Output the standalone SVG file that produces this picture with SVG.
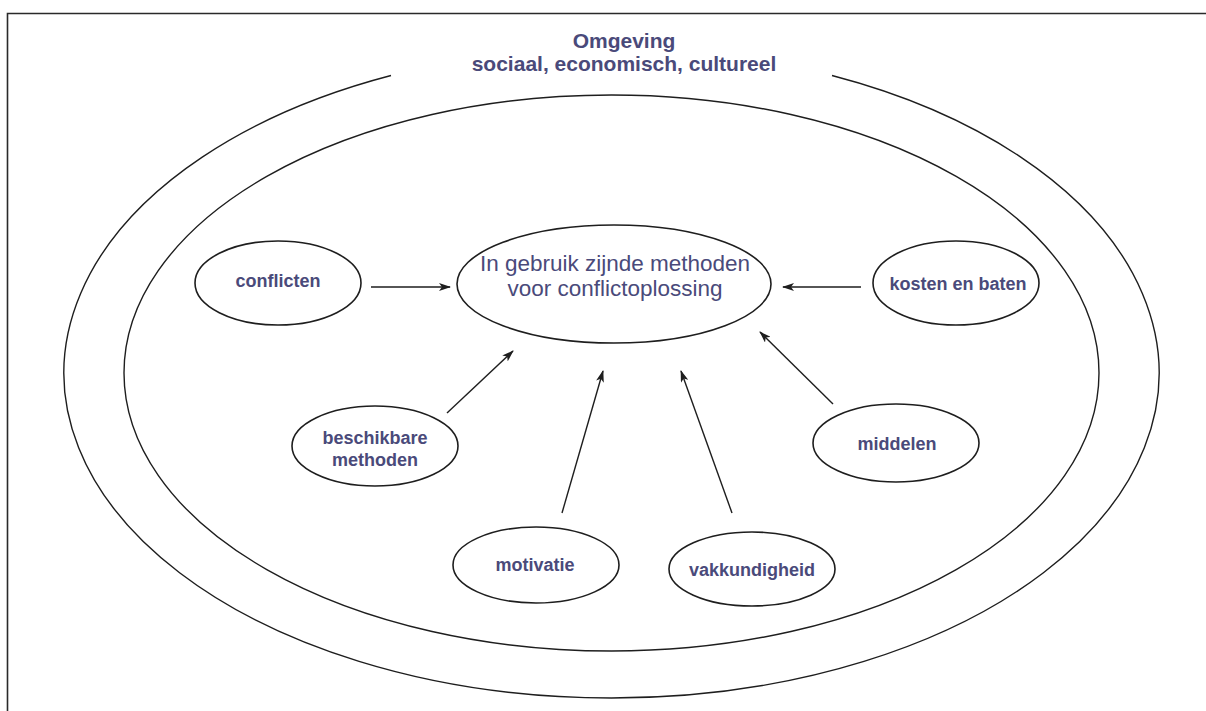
<svg xmlns="http://www.w3.org/2000/svg" width="1206" height="711" viewBox="0 0 1206 711">
<defs>
<style>
.ln{fill:none;stroke:#1e1e1e;stroke-width:1.4}
.nd{fill:#fff;stroke:#1e1e1e;stroke-width:1.6}
.t{font-family:"Liberation Sans",Arial,sans-serif;fill:#4a4a7a;text-anchor:middle}
.b{font-weight:bold;font-size:18px}
.c{font-size:22.5px}
.h{font-weight:bold;font-size:21px}
.ar{fill:none;stroke:#1e1e1e;stroke-width:1.4;marker-end:url(#ah)}
</style>
<marker id="ah" viewBox="0 0 12 8" refX="11" refY="4" markerWidth="12" markerHeight="8" markerUnits="userSpaceOnUse" orient="auto">
<path d="M0,0 L12,4 L0,8 L3,4 z" fill="#1e1e1e"/>
</marker>
</defs>
<rect width="1206" height="711" fill="#fff"/>
<path d="M7.5,711 V13.5 H1206" fill="none" stroke="#2a2a2a" stroke-width="1.6"/>
<g id="omgeving">
<path class="ln" d="M391,75.5 A547.5,325 0 1 0 832,75.5"/>
<text class="t h" x="624" y="48">Omgeving</text>
<text class="t h" x="624" y="71">sociaal, economisch, cultureel</text>
</g>
<g id="inner">
<ellipse class="ln" cx="611.5" cy="373" rx="487.5" ry="278"/>
</g>
<g id="center">
<ellipse class="nd" cx="614" cy="284" rx="157" ry="59"/>
<text class="t c" x="615" y="271">In gebruik zijnde methoden</text>
<text class="t c" x="615" y="296">voor conflictoplossing</text>
</g>
<g id="conflicten">
<ellipse class="nd" cx="278" cy="283" rx="83" ry="42"/>
<text class="t b" x="278" y="287">conflicten</text>
</g>
<g id="kosten">
<ellipse class="nd" cx="956" cy="283" rx="83" ry="42"/>
<text class="t b" x="958" y="290">kosten en baten</text>
</g>
<g id="beschikbare">
<ellipse class="nd" cx="375" cy="446" rx="83" ry="40"/>
<text class="t b" x="375" y="444">beschikbare</text>
<text class="t b" x="375" y="466">methoden</text>
</g>
<g id="middelen">
<ellipse class="nd" cx="896" cy="443" rx="83" ry="39"/>
<text class="t b" x="897" y="450">middelen</text>
</g>
<g id="motivatie">
<ellipse class="nd" cx="536" cy="565" rx="83" ry="38"/>
<text class="t b" x="535" y="571">motivatie</text>
</g>
<g id="vakkundigheid">
<ellipse class="nd" cx="752" cy="569" rx="83" ry="37"/>
<text class="t b" x="752" y="576">vakkundigheid</text>
</g>
<g id="connectors">
<line class="ar" x1="371" y1="287" x2="450" y2="287"/>
<line class="ar" x1="861" y1="287" x2="783" y2="287"/>
<line class="ar" x1="447" y1="413" x2="513" y2="351"/>
<line class="ar" x1="833" y1="404" x2="760" y2="332"/>
<line class="ar" x1="562" y1="513" x2="603" y2="371"/>
<line class="ar" x1="732" y1="513" x2="681" y2="371"/>
</g>
</svg>
